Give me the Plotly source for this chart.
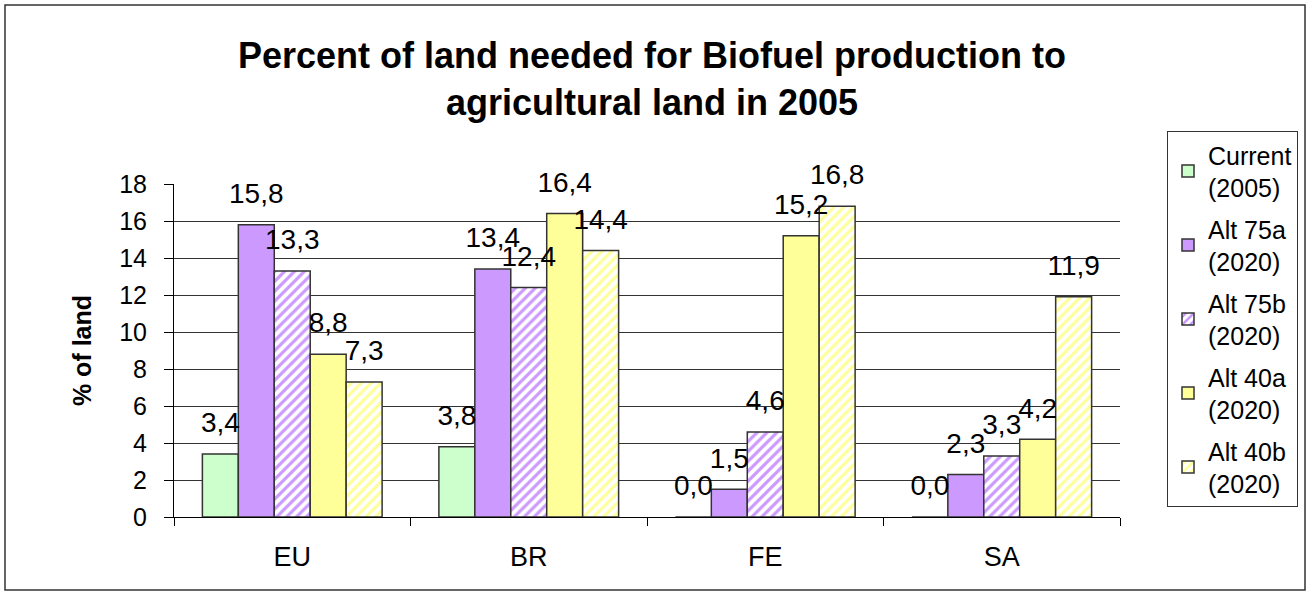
import plotly.graph_objects as go

categories = ["EU", "BR", "FE", "SA"]
series_names = ["Current<br>(2005)", "Alt 75a<br>(2020)", "Alt 75b<br>(2020)", "Alt 40a<br>(2020)", "Alt 40b<br>(2020)"]
current_2005 = [3.4, 3.8, 0.0, 0.0]
alt75a_2020 = [15.8, 13.4, 1.5, 2.3]
alt75b_2020 = [13.3, 12.4, 4.6, 3.3]
alt40a_2020 = [8.8, 16.4, 15.2, 4.2]
alt40b_2020 = [7.3, 14.4, 16.8, 11.9]
y_ticks = [0, 2, 4, 6, 8, 10, 12, 14, 16, 18]

series_values = [current_2005, alt75a_2020, alt75b_2020, alt40a_2020, alt40b_2020]
colors = ["#CCFFCC", "#CC99FF", "#CC99FF", "#FFFF99", "#FFFF99"]
hatched = [False, False, True, False, True]

FONT = "Liberation Sans, Arial, sans-serif"
W, H = 1310, 595
ML, MR, MT, MB = 174, 190, 184, 78
PW = W - ML - MR
PH = H - MT - MB
BARGAP = 0.24


def px_to_paper_x(px):
    return (px - ML) / PW


def px_to_paper_y(py):
    return (H - MB - py) / PH


fig = go.Figure()
for i, (name, vals) in enumerate(zip(series_names, series_values)):
    if hatched[i]:
        marker = dict(color="white", line=dict(color="#333333", width=1.5),
                      pattern=dict(shape="/", fgcolor=colors[i], bgcolor="white",
                                   size=7, solidity=0.45, fillmode="replace"))
    else:
        marker = dict(color=colors[i], line=dict(color="#333333", width=1.5))
    fig.add_trace(go.Bar(
        x=categories, y=vals, name=name, marker=marker,
        offsetgroup=f"s{i}", alignmentgroup="a",
        legendgroup=f"g{i}", hoverinfo="x+y",
    ))

# value labels as grouped text points (offset like the bars)
for i, vals in enumerate(series_values):
    fig.add_trace(go.Scatter(
        x=categories, y=vals, mode="markers+text",
        text=[f"{v:.1f}".replace(".", ",") for v in vals],
        textposition="top center",
        textfont=dict(family=FONT, size=28, color="black"),
        marker=dict(size=22, opacity=0, color="white"),
        offsetgroup=f"s{i}", alignmentgroup="a",
        showlegend=False, hoverinfo="skip", cliponaxis=False,
    ))

fig.update_layout(
    width=W, height=H,
    margin=dict(l=ML, r=MR, t=MT, b=MB),
    paper_bgcolor="white", plot_bgcolor="white",
    barmode="group", bargap=BARGAP, bargroupgap=0,
    scattermode="group", scattergap=BARGAP,
    font=dict(family=FONT, size=26, color="black"),
    title=dict(text="<b>Percent of land needed for Biofuel production to<br>agricultural land in 2005</b>",
               x=px_to_paper_x(652), xref="paper", xanchor="center",
               y=1 - 68 / H, yref="container", yanchor="middle",
               font=dict(family=FONT, size=36, color="black")),
    showlegend=True,
    legend=dict(x=px_to_paper_x(1167), y=px_to_paper_y(131), xanchor="left", yanchor="top",
                xref="paper", yref="paper",
                bordercolor="#333333", borderwidth=1, bgcolor="white",
                font=dict(family=FONT, size=25, color="black"),
                tracegroupgap=6, itemwidth=30, maxheight=480),
    hovermode="closest",
)
fig.update_xaxes(
    showline=True, linecolor="black", linewidth=1,
    ticks="outside", tickson="boundaries", ticklen=8, tickcolor="black",
    tickfont=dict(family=FONT, size=27, color="black"),
    ticklabelstandoff=16,
    showgrid=False,
)
fig.update_yaxes(
    range=[0, 18], tickvals=y_ticks, ticktext=[str(t) for t in y_ticks],
    showline=True, linecolor="black", linewidth=1,
    ticks="outside", ticklen=9, tickcolor="black",
    ticklabelstandoff=12,
    showgrid=True, gridcolor="#333333", gridwidth=1,
    zeroline=False,
    tickfont=dict(family=FONT, size=25, color="black"),
    title=dict(text="<b>% of land</b>", font=dict(family=FONT, size=25, color="black"), standoff=20),
)
# outer chart frame
fig.add_shape(type="rect", xref="paper", yref="paper",
              x0=px_to_paper_x(5), x1=px_to_paper_x(1305),
              y0=px_to_paper_y(590), y1=px_to_paper_y(5),
              line=dict(color="#333333", width=1.5), fillcolor="rgba(0,0,0,0)", layer="below")

fig.write_html("out.html", config={"displayModeBar": False},
               post_script="document.body.style.margin='0';")
